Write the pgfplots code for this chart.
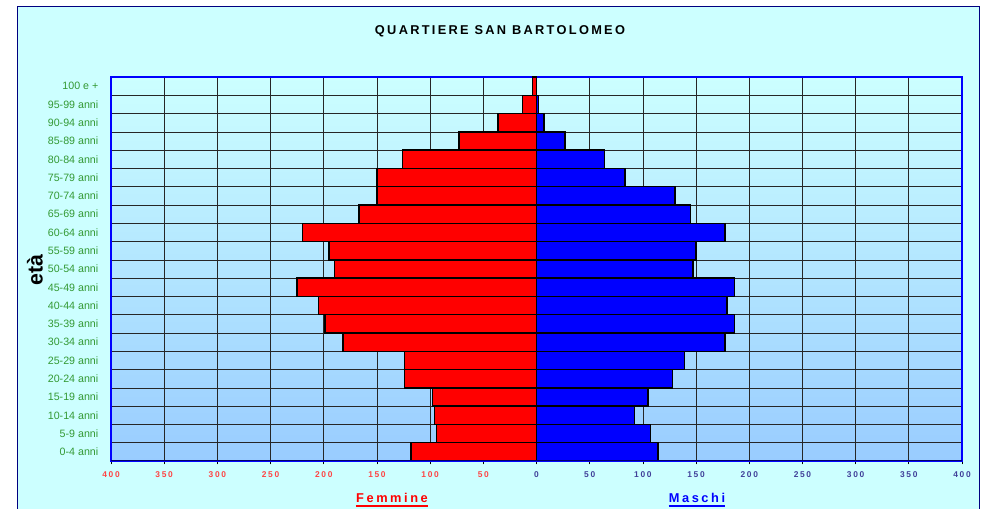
\documentclass[border=0pt]{standalone}
\usepackage{pgfplots}
\pgfplotsset{compat=1.18}
\usepackage{pgfplotstable}
\usepackage{fontspec}
\setmainfont{Liberation Sans}

\definecolor{bgcyan}{HTML}{CCFFFF}
\definecolor{plotbot}{HTML}{99CCFF}
\definecolor{framec}{HTML}{000080}
\definecolor{agegreen}{HTML}{339933}
\definecolor{fred}{HTML}{FF0000}
\definecolor{mblue}{HTML}{0000FF}
\definecolor{tickred}{HTML}{FF4444}
\definecolor{tickblue}{HTML}{404099}

% y = age class (0 = 0-4 anni ... 20 = 100 e +), F = femmine, M = maschi
\pgfplotstableread{
y F M
0 118 114
1 94 107
2 96 92
3 98 105
4 124 128
5 124 139
6 182 177
7 199 186
8 205 179
9 225 186
10 190 147
11 195 150
12 220 177
13 167 145
14 150 130
15 150 83
16 126 64
17 73 27
18 36 7
19 13 2
20 4 0
}\pyramid

\begin{document}
\begin{tikzpicture}[x=0.75pt,y=0.75pt]
\path[use as bounding box] (0,0) rectangle (988,509);
\clip (0,0) rectangle (988,509);
\fill[white] (0,0) rectangle (988,509);
\draw[framec, line width=1.1pt, fill=bgcyan] (17.5,502.3) rectangle (979.3,-20);

\begin{axis}[
  at={(83.25pt,36pt)}, anchor=south west,
  scale only axis, width=638.25pt, height=288pt,
  xbar, bar width=1, bar shift=0pt,
  xmin=-400, xmax=400, ymin=-0.5, ymax=20.5,
  xtick={-400,-350,...,400},
  xticklabels={{\color{tickred}400},{\color{tickred}350},{\color{tickred}300},{\color{tickred}250},{\color{tickred}200},{\color{tickred}150},{\color{tickred}100},{\color{tickred}50},{\color{tickblue}0},{\color{tickblue}50},{\color{tickblue}100},{\color{tickblue}150},{\color{tickblue}200},{\color{tickblue}250},{\color{tickblue}300},{\color{tickblue}350},{\color{tickblue}400}},
  ytick={0,...,20},
  yticklabels={0-4 anni,5-9 anni,10-14 anni,15-19 anni,20-24 anni,25-29 anni,30-34 anni,35-39 anni,40-44 anni,45-49 anni,50-54 anni,55-59 anni,60-64 anni,65-69 anni,70-74 anni,75-79 anni,80-84 anni,85-89 anni,90-94 anni,95-99 anni,100 e +},
  minor ytick={0.5,1.5,...,19.5},
  xmajorgrids, yminorgrids,
  grid style={black!85, line width=0.5pt},
  minor grid style={black!85, line width=0.5pt},
  tick align=outside, xtick pos=bottom, ytick pos=left,
  major tick length=2.5pt, minor tick length=0pt,
  xtick style={black, line width=0.5pt},
  ytick style={draw=none},
  axis line style={mblue, line width=1pt},
  axis background/.style={top color=bgcyan, bottom color=plotbot},
  yticklabel style={font=\fontsize{8}{9}\selectfont, text=agegreen, xshift=-3.5pt},
  xticklabel style={font=\fontsize{6.3}{7}\selectfont\bfseries\addfontfeature{LetterSpace=20}, yshift=-2pt},
]
\addplot[fill=fred, draw=black, line width=1.1pt] table[x expr=-\thisrow{F}, y=y] {\pyramid};
\addplot[fill=mblue, draw=black, line width=1.1pt] table[x=M, y=y] {\pyramid};
\draw[framec!80!black, line width=1pt] (rel axis cs:0,0) -- (rel axis cs:1,0);
\end{axis}

\node[font=\fontsize{9.6}{10}\selectfont\bfseries\addfontfeature{LetterSpace=18}] at (500,478) {QUARTIERE SAN BARTOLOMEO};
\node[rotate=90, font=\fontsize{16}{18}\selectfont\bfseries] at (35,239) {età};
\node[text=fred, inner sep=0pt, font=\fontsize{9.6}{10}\selectfont\bfseries\addfontfeature{LetterSpace=20}] (f) at (392,11) {Femmine};
\draw[fred, line width=1.6pt] ([yshift=-2.2pt]f.south west) -- ([yshift=-2.2pt]f.south east);
\node[text=mblue, inner sep=0pt, font=\fontsize{9.6}{10}\selectfont\bfseries\addfontfeature{LetterSpace=20}] (m) at (697,11) {Maschi};
\draw[mblue, line width=1.6pt] ([yshift=-2.2pt]m.south west) -- ([yshift=-2.2pt]m.south east);
\end{tikzpicture}
\end{document}
